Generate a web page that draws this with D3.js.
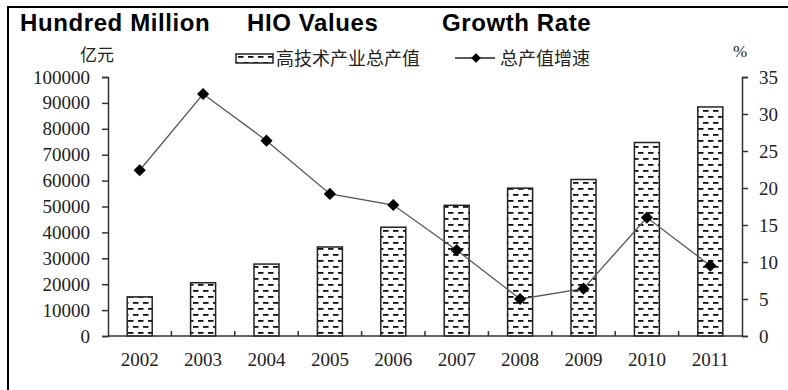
<!DOCTYPE html>
<html>
<head>
<meta charset="utf-8">
<script src="https://cdn.jsdelivr.net/npm/d3@7"></script>
<style>
  body { margin: 0; background: #fff; }
  svg { display: block; }
</style>
</head>
<body>
<div id="chart"></div>
<script>
// data
var years = ["2002", "2003", "2004", "2005", "2006", "2007", "2008", "2009", "2010", "2011"];
var outputValues = [15099, 20556, 27769, 34367, 41996, 50461, 57087, 60430, 74709, 88434];
var growthRates = [22.4, 32.7, 26.4, 19.2, 17.7, 11.6, 5.0, 6.4, 16.0, 9.5];
var leftTicks = [0, 10000, 20000, 30000, 40000, 50000, 60000, 70000, 80000, 90000, 100000];
var rightTicks = [0, 5, 10, 15, 20, 25, 30, 35];

var width = 788, height = 390;
var margin = {left: 108, right: 46, top: 77, bottom: 54};

var svg = d3.select("#chart").append("svg")
    .attr("width", width)
    .attr("height", height);

// dashed fill pattern for the bars
var defs = svg.append("defs");
var pat = defs.append("pattern")
    .attr("id", "dashes")
    .attr("patternUnits", "userSpaceOnUse")
    .attr("width", 10)
    .attr("height", 12)
    .attr("x", 1)
    .attr("y", 0);
pat.append("rect").attr("width", 10).attr("height", 12).attr("fill", "#fff");
pat.append("rect").attr("x", 2).attr("y", 2).attr("width", 5.5).attr("height", 1.8).attr("fill", "#111");
pat.append("rect").attr("x", -3).attr("y", 8).attr("width", 5.5).attr("height", 1.8).attr("fill", "#111");
pat.append("rect").attr("x", 7).attr("y", 8).attr("width", 5.5).attr("height", 1.8).attr("fill", "#111");

// outer frame (top and left edges only)
svg.append("line").attr("x1", 7).attr("x2", width).attr("y1", 7).attr("y2", 7)
    .attr("stroke", "#000").attr("stroke-width", 2);
svg.append("line").attr("x1", 8).attr("x2", 8).attr("y1", 7).attr("y2", height)
    .attr("stroke", "#000").attr("stroke-width", 2);

var xStep = d3.scaleBand().domain(years).range([margin.left, width - margin.right]);

var yLeft = d3.scaleLinear().domain([0, 100000]).range([height - margin.bottom, margin.top]);
var yRight = d3.scaleLinear().domain([0, 35]).range([height - margin.bottom, margin.top]);

var serif = "'Liberation Serif', 'DejaVu Serif', serif";
var cjk = "'Noto Sans CJK SC', sans-serif";
var barW = 25;

// bars
svg.append("g").selectAll("rect")
    .data(outputValues)
    .enter().append("rect")
    .attr("x", function(d, i) { return xStep(years[i]) + (xStep.bandwidth() - barW) / 2; })
    .attr("y", function(d) { return yLeft(d); })
    .attr("width", barW)
    .attr("height", function(d) { return yLeft(0) - yLeft(d); })
    .attr("fill", "url(#dashes)")
    .attr("stroke", "#222")
    .attr("stroke-width", 1.5);

// left axis
var leftAxis = svg.append("g")
    .attr("transform", "translate(" + margin.left + ",0)")
    .call(d3.axisLeft(yLeft).tickValues(leftTicks).tickFormat(d3.format("d"))
        .tickSize(6).tickPadding(12).tickSizeOuter(6));
// right axis
var rightAxis = svg.append("g")
    .attr("transform", "translate(" + (width - margin.right) + ",0)")
    .call(d3.axisRight(yRight).tickValues(rightTicks).tickSize(6).tickPadding(11).tickSizeOuter(6));

[leftAxis, rightAxis].forEach(function(ax) {
    ax.select(".domain").attr("stroke", "#333").attr("stroke-width", 1.5);
    ax.selectAll(".tick line").attr("stroke", "#333").attr("stroke-width", 1.5);
    ax.selectAll(".tick text")
        .style("font-family", serif)
        .style("font-size", "19px")
        .attr("fill", "#222");
});

// bottom axis: ticks between categories pointing up
var bottom = svg.append("g");
bottom.append("line")
    .attr("x1", margin.left).attr("x2", width - margin.right)
    .attr("y1", yLeft(0)).attr("y2", yLeft(0))
    .attr("stroke", "#333").attr("stroke-width", 1.5);
bottom.selectAll(".sep")
    .data(years.slice(1))
    .enter().append("line")
    .attr("x1", function(d) { return xStep(d); })
    .attr("x2", function(d) { return xStep(d); })
    .attr("y1", yLeft(0))
    .attr("y2", yLeft(0) - 5)
    .attr("stroke", "#333").attr("stroke-width", 1.5);
bottom.selectAll(".lbl")
    .data(years)
    .enter().append("text")
    .attr("x", function(d) { return xStep(d) + xStep.bandwidth() / 2; })
    .attr("y", yLeft(0) + 30)
    .attr("text-anchor", "middle")
    .style("font-family", serif)
    .style("font-size", "19px")
    .attr("fill", "#222")
    .text(function(d) { return d; });

// growth line
var line = d3.line()
    .x(function(d, i) { return xStep(years[i]) + xStep.bandwidth() / 2; })
    .y(function(d) { return yRight(d); });
svg.append("path")
    .datum(growthRates)
    .attr("d", line)
    .attr("fill", "none")
    .attr("stroke", "#555")
    .attr("stroke-width", 1.3);

var diamond = d3.symbol().type(d3.symbolDiamond2).size(95);
svg.append("g").selectAll("path")
    .data(growthRates)
    .enter().append("path")
    .attr("d", diamond)
    .attr("transform", function(d, i) {
        return "translate(" + (xStep(years[i]) + xStep.bandwidth() / 2) + "," + yRight(d) + ")";
    })
    .attr("fill", "#000");

// titles
var titles = [["Hundred Million", 20], ["HIO Values", 247], ["Growth Rate", 442]];
svg.selectAll(".title")
    .data(titles)
    .enter().append("text")
    .attr("x", function(d) { return d[1]; })
    .attr("y", 31)
    .style("font-family", "'Liberation Sans', Arial, sans-serif")
    .style("font-size", "24px")
    .style("letter-spacing", "0.6px")
    .style("font-weight", "bold")
    .text(function(d) { return d[0]; });

// unit labels
svg.append("text")
    .attr("x", 80).attr("y", 61)
    .style("font-family", cjk).style("font-size", "17px")
    .attr("fill", "#222")
    .text("亿元");
svg.append("text")
    .attr("x", 733).attr("y", 57)
    .style("font-family", serif).style("font-size", "17px")
    .attr("fill", "#222")
    .text("%");

// legend
var lg = svg.append("g");
lg.append("rect")
    .attr("x", 236).attr("y", 54)
    .attr("width", 37).attr("height", 9)
    .attr("fill", "url(#dashes)")
    .attr("stroke", "#222").attr("stroke-width", 1.5);
lg.append("text")
    .attr("x", 276).attr("y", 65)
    .style("font-family", cjk).style("font-size", "18px")
    .attr("fill", "#222")
    .text("高技术产业总产值");
lg.append("line")
    .attr("x1", 455).attr("x2", 495).attr("y1", 58).attr("y2", 58)
    .attr("stroke", "#222").attr("stroke-width", 1.5);
lg.append("path")
    .attr("d", d3.symbol().type(d3.symbolDiamond2).size(60))
    .attr("transform", "translate(476,58)")
    .attr("fill", "#000");
lg.append("text")
    .attr("x", 500).attr("y", 65)
    .style("font-family", cjk).style("font-size", "18px")
    .attr("fill", "#222")
    .text("总产值增速");
</script>
</body>
</html>
